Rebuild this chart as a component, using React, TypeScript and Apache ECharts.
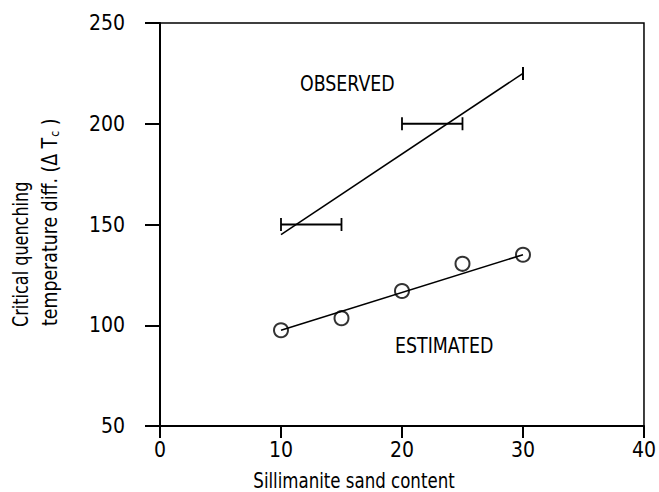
import React, { useEffect, useRef } from "react";
import * as echarts from "echarts";

// ---- data ----
const xTickValues = [0, 10, 20, 30, 40];
const yTickValues = [50, 100, 150, 200, 250];

// Observed: straight trend line
const observedLineX = [10, 30];
const observedLineY = [145, 225];

// Observed: horizontal error bars (y, xLow, xHigh)
const observedBarY = [150, 200, 225];
const observedBarLow = [10, 20, 30];
const observedBarHigh = [15, 25, 30];

// Estimated: circles + fitted line
const estimatedX = [10, 15, 20, 25, 30];
const estimatedY = [97.5, 103.5, 117, 130.5, 135];
const estimatedFitX = [10, 30];
const estimatedFitY = [97.5, 135];

const FONT = "'DejaVu Sans Condensed', 'Liberation Sans Narrow', 'DejaVu Sans', sans-serif";

export default function App() {
  const ref = useRef<HTMLDivElement>(null);

  useEffect(() => {
    if (!ref.current) return;
    const chart = echarts.init(ref.current, null, { renderer: "svg" });

    const observedLine = observedLineX.map((x, i) => [x, observedLineY[i]]);
    const estimatedFit = estimatedFitX.map((x, i) => [x, estimatedFitY[i]]);
    const estimatedPts = estimatedX.map((x, i) => [x, estimatedY[i]]);
    const bars = observedBarY.map((y, i) => [observedBarLow[i], observedBarHigh[i], y]);

    chart.setOption({
      animation: false,
      backgroundColor: "#fff",
      grid: {
        left: 160,
        right: 13,
        top: 23,
        bottom: 66,
        show: true,
        borderColor: "#000",
        borderWidth: 1.5,
        backgroundColor: "transparent",
      },
      xAxis: {
        type: "value",
        min: xTickValues[0],
        max: xTickValues[xTickValues.length - 1],
        interval: 10,
        axisLine: { show: true, onZero: false, lineStyle: { color: "#000", width: 2 } },
        axisTick: { show: true, inside: false, length: 12, lineStyle: { color: "#000", width: 2 } },
        axisLabel: { color: "#000", fontSize: 21, fontFamily: FONT, margin: 13 },
        splitLine: { show: false },
      },
      yAxis: {
        type: "value",
        min: yTickValues[0],
        max: yTickValues[yTickValues.length - 1],
        interval: 50,
        axisLine: { show: true, onZero: false, lineStyle: { color: "#000", width: 2 } },
        axisTick: { show: true, inside: false, length: 15, lineStyle: { color: "#000", width: 2 } },
        axisLabel: { color: "#000", fontSize: 21, fontFamily: FONT, margin: 35 },
        splitLine: { show: false },
      },
      series: [
        {
          name: "Observed",
          type: "line",
          data: observedLine,
          showSymbol: false,
          symbol: "none",
          lineStyle: { color: "#000", width: 1.6 },
        },
        {
          name: "Observed range",
          type: "custom",
          data: bars,
          renderItem: (params: any, api: any) => {
            const lo = api.coord([api.value(0), api.value(2)]);
            const hi = api.coord([api.value(1), api.value(2)]);
            const cap = 6.5;
            const style = { stroke: "#000", lineWidth: 1.8, fill: "none" };
            return {
              type: "group",
              children: [
                { type: "line", shape: { x1: lo[0], y1: lo[1], x2: hi[0], y2: hi[1] }, style },
                { type: "line", shape: { x1: lo[0], y1: lo[1] - cap, x2: lo[0], y2: lo[1] + cap }, style },
                { type: "line", shape: { x1: hi[0], y1: hi[1] - cap, x2: hi[0], y2: hi[1] + cap }, style },
              ],
            };
          },
        },
        {
          name: "Estimated fit",
          type: "line",
          data: estimatedFit,
          showSymbol: false,
          symbol: "none",
          lineStyle: { color: "#000", width: 1.6 },
        },
        {
          name: "Estimated",
          type: "scatter",
          data: estimatedPts,
          symbol: "circle",
          symbolSize: 14,
          itemStyle: { color: "none", borderColor: "#000", borderWidth: 2 },
        },
      ],
      graphic: [
        {
          type: "text",
          x: 300,
          y: 84,
          scaleX: 0.88,
          style: { text: "OBSERVED", fontSize: 22, fontFamily: FONT, fill: "#000", align: "left", verticalAlign: "middle" },
        },
        {
          type: "text",
          x: 395,
          y: 346,
          scaleX: 0.88,
          style: { text: "ESTIMATED", fontSize: 22, fontFamily: FONT, fill: "#000", align: "left", verticalAlign: "middle" },
        },
        {
          type: "text",
          x: 354,
          y: 481,
          scaleX: 0.88,
          style: {
            text: "Sillimanite sand content",
            fontSize: 21,
            fontFamily: FONT,
            fill: "#000",
            align: "center",
            verticalAlign: "middle",
          },
        },
        {
          type: "text",
          x: 21,
          y: 327,
          rotation: Math.PI / 2,
          scaleX: 0.85,
          style: {
            text: "Critical quenching",
            fontSize: 21,
            fontFamily: FONT,
            fill: "#000",
            align: "left",
            verticalAlign: "middle",
          },
        },
        {
          type: "text",
          x: 50,
          y: 326,
          rotation: Math.PI / 2,
          scaleX: 0.92,
          style: {
            text: "{a|temperature diff. (Δ T}{s|c}{a| )}",
            fontFamily: FONT,
            fill: "#000",
            align: "left",
            verticalAlign: "middle",
            rich: {
              a: { fontSize: 21, fontFamily: FONT, fill: "#000" },
              s: { fontSize: 13, fontFamily: FONT, fill: "#000", verticalAlign: "bottom", padding: [8, 0, 0, 1] },
            },
          },
        },
      ],
    });

    return () => chart.dispose();
  }, []);

  return <div ref={ref} style={{ position: "absolute", left: 0, top: 0, width: 659, height: 492 }} />;
}
